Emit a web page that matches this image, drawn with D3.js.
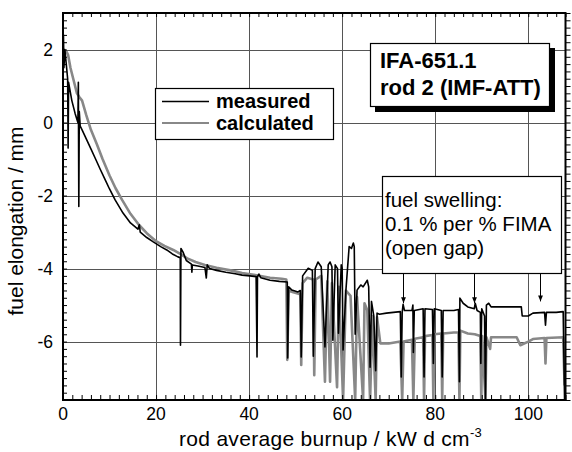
<!DOCTYPE html>
<html><head><meta charset="utf-8">
<script src="https://cdn.jsdelivr.net/npm/d3@7"></script>
<style>html,body{margin:0;padding:0;background:#fff}svg{display:block}</style>
</head><body>
<script>
// ---- data ----
const measuredBurnup = [0.0,0.1,0.2,0.4,0.7,1.0,1.1,1.2,1.9,2.6,3.2,3.3,3.4,3.5,3.7,4.1,5,6,7,8,9,10,11.2,12.9,14.5,16.1,16.4,16.6,18,19.4,21,22.3,23.5,24.7,25.2,25.25,25.35,25.8,26.5,27.3,27.6,27.7,27.8,29,30.5,30.8,31.0,31.5,33,35,37,38.5,40.2,41.5,41.7,41.8,42.1,42.5,44.5,46.5,48.2,48.3,48.5,49.2,50.5,51.0,51.2,51.5,52.7,53.6,53.8,54.2,54.8,55.5,56.3,57.0,57.4,57.8,58.0,58.5,59.0,59.2,59.8,60.0,60.2,60.8,61.5,62.0,62.4,62.6,62.8,63.2,64,64.5,65.4,65.7,66.0,66.3,66.8,67.2,67.5,68,69.5,71,72.5,72.7,72.9,73.1,73.4,75.0,75.2,75.3,75.5,77.4,77.6,77.8,79.4,79.6,79.8,81.3,81.5,81.7,84.0,85.0,85.2,85.3,86,87,88.4,88.6,89,89.7,89.8,90.0,90.6,90.8,91.0,91.5,92,95,98.5,98.7,100,101,103.5,103.7,103.9,106,107.5,107.8];
const measuredElong = [1.8,2.4,1.5,2.0,1.6,1.2,-0.7,1.1,0.6,0.25,0.0,1.1,-2.3,0.3,-0.1,-0.2,-0.45,-0.72,-1.0,-1.28,-1.55,-1.82,-2.12,-2.48,-2.75,-2.92,-2.8,-3.0,-3.15,-3.27,-3.4,-3.49,-3.6,-3.68,-3.7,-6.1,-3.45,-3.55,-3.78,-3.85,-3.88,-4.1,-3.9,-3.93,-3.97,-4.26,-3.9,-4.0,-4.05,-4.1,-4.14,-4.18,-4.2,-4.22,-6.42,-4.22,-4.15,-4.25,-4.32,-4.35,-4.37,-6.45,-4.5,-4.59,-4.64,-4.6,-6.42,-4.2,-3.99,-4.05,-6.4,-4.0,-3.82,-3.95,-6.15,-3.9,-3.82,-3.95,-5.96,-3.9,-4.0,-5.77,-3.9,-4.0,-6.23,-4.6,-3.4,-3.45,-3.3,-3.4,-5.8,-4.59,-4.45,-4.5,-4.32,-4.5,-6.7,-4.9,-5.3,-6.8,-5.22,-5.25,-5.22,-5.2,-5.18,-6.97,-5.2,-4.98,-5.15,-5.15,-5.0,-6.3,-5.15,-5.1,-6.97,-5.1,-5.12,-6.6,-5.1,-5.15,-6.97,-5.15,-5.15,-5.12,-7.1,-4.81,-4.95,-5.05,-5.1,-4.95,-5.15,-5.2,-6.6,-5.1,-5.3,-7.6,-5.0,-4.95,-5.05,-5.05,-5.05,-5.3,-5.3,-5.22,-5.2,-5.55,-5.2,-5.2,-5.18,-7.6];
const calcBurnup = [0,0.3,0.8,1.1,1.6,2.2,3.0,3.5,4.1,5.0,6.0,7.3,8.5,10,11.3,12.7,14.5,16.3,18,20,21.8,23.7,25.2,26.7,28.5,30.5,33,36,38.5,41,44.5,47,48.0,48.2,48.5,49.5,51.0,51.2,51.5,52.5,53.8,54.0,54.3,55.5,56.3,56.8,57.4,57.8,58.9,59.3,60.2,60.8,61.8,62.8,63.2,64.5,64.8,65.4,66.0,66.5,67.2,67.5,68.2,70,72.5,72.9,73.2,75.0,75.3,75.6,77.4,77.6,77.8,79.4,79.6,79.8,81.3,81.5,81.7,84,85.0,85.2,85.4,87,88.5,89.7,89.9,90.1,90.8,91.0,91.8,92.0,95,97.5,98.3,100,101,103.5,103.7,103.9,107.5,107.8];
const calcElong = [1.7,1.95,1.93,1.85,1.5,1.2,0.8,0.7,0.6,0.2,-0.2,-0.6,-1.0,-1.45,-1.8,-2.12,-2.5,-2.8,-3.03,-3.25,-3.38,-3.49,-3.6,-3.72,-3.82,-3.9,-3.98,-4.05,-4.12,-4.17,-4.25,-4.28,-4.3,-6.5,-4.6,-4.65,-4.7,-6.64,-4.4,-4.25,-4.3,-6.92,-4.3,-4.2,-7.1,-4.35,-7.1,-4.4,-7.25,-4.5,-7.6,-4.6,-4.75,-7.6,-4.78,-7.6,-4.95,-5.14,-7.6,-5.3,-7.6,-5.33,-6.05,-6.05,-6.0,-7.6,-6.0,-5.95,-7.6,-5.92,-5.88,-7.6,-5.85,-5.82,-7.6,-5.8,-5.78,-7.6,-5.78,-5.75,-5.75,-7.6,-5.7,-5.78,-5.8,-5.85,-7.6,-5.85,-7.6,-5.88,-6.2,-5.88,-5.88,-5.88,-6.1,-6.0,-5.93,-5.9,-6.6,-5.9,-5.88,-7.2];
const xTicks = [0,20,40,60,80,100];
const yTicks = [-6,-4,-2,0,2];
const seriesNames = ["measured","calculated"];
const titleLines = ["IFA-651.1","rod 2 (IMF-ATT)"];
const noteLines = ["fuel swelling:","0.1 % per % FIMA","(open gap)"];
const arrowBurnup = [73.1,88.4,102.6];
const arrowElong = [-4.95,-4.95,-4.9];

// ---- chart ----
const W = 572, H = 452;
const FONT = "'Liberation Sans', Arial, sans-serif";
const svg = d3.select("body").append("svg").attr("width",W).attr("height",H);
const x = d3.scaleLinear([0,108],[63,565.5]);
const y = d3.scaleLinear([-7.6,3],[400,13]);
const [x0,x1] = x.range(), [y0,y1] = y.range();

// grid
const grid = svg.append("g").attr("stroke","#555").attr("stroke-width",1);
grid.selectAll(".gx").data(xTicks.filter(d=>d>0)).join("line")
  .attr("x1",d=>Math.round(x(d))+0.5).attr("x2",d=>Math.round(x(d))+0.5).attr("y1",y1).attr("y2",y0);
grid.selectAll(".gy").data(yTicks).join("line")
  .attr("y1",d=>Math.round(y(d))+0.5).attr("y2",d=>Math.round(y(d))+0.5).attr("x1",x0).attr("x2",x1);

// data
svg.append("clipPath").attr("id","clip").append("rect").attr("x",x0).attr("y",y1).attr("width",x1-x0).attr("height",y0-y1);
const line = d3.line().x(d=>x(d[0])).y(d=>y(d[1]));
const calc = calcBurnup.map((b,i)=>[b,calcElong[i]]);
const meas = measuredBurnup.map((b,i)=>[b,measuredElong[i]]);
const plot = svg.append("g").attr("clip-path","url(#clip)");
plot.append("path").datum(calc).attr("d",line).attr("fill","none").attr("stroke","#888").attr("stroke-width",2.6).attr("stroke-linejoin","round");
plot.append("path").datum(meas).attr("d",line).attr("fill","none").attr("stroke","#000").attr("stroke-width",1.6).attr("stroke-linejoin","round");

// axes (ticks inward)
const minorX = d3.range(0,108.01,2);
const minorY = d3.range(-7.6,3.001,0.2).map(v=>+v.toFixed(1));
const axB = d3.axisBottom(x).tickValues(minorX).tickSize(-5).tickFormat("");
svg.append("g").attr("transform",`translate(0,${y0})`).call(axB);
const axT = d3.axisTop(x).tickValues(minorX).tickSize(-4).tickFormat("");
svg.append("g").attr("transform",`translate(0,${y1})`).call(axT);
const axL = d3.axisLeft(y).tickValues(minorY).tickSize(-4).tickFormat("");
svg.append("g").attr("transform",`translate(${x0},0)`).call(axL);
const axR = d3.axisRight(y).tickValues(minorY).tickSize(5).tickFormat("");
svg.append("g").attr("transform",`translate(${x1},0)`).call(axR);
svg.selectAll(".domain").remove();
svg.selectAll(".tick line").attr("stroke","#000").attr("stroke-width",1);
svg.append("rect").attr("x",x0).attr("y",y1).attr("width",x1-x0).attr("height",y0-y1)
  .attr("fill","none").attr("stroke","#000").attr("stroke-width",2);

// tick labels
svg.append("g").selectAll("text").data(xTicks).join("text")
  .attr("x",d=>x(d)).attr("y",420).attr("text-anchor","middle")
  .attr("font-family",FONT).attr("font-size",17.5).text(d=>d);
svg.append("g").selectAll("text").data(yTicks).join("text")
  .attr("x",53).attr("y",d=>y(d)+6).attr("text-anchor","end")
  .attr("font-family",FONT).attr("font-size",17.5).text(d=>d);

// axis titles
const xt = svg.append("text").attr("x",179).attr("y",446).attr("font-family",FONT).attr("font-size",21).attr("letter-spacing",0.3);
xt.append("tspan").text("rod average burnup / kW d cm");
xt.append("tspan").attr("dy",-9).attr("font-size",13).text("-3");
svg.append("text").attr("transform","translate(23,221) rotate(-90)").attr("text-anchor","middle")
  .attr("font-family",FONT).attr("font-size",21).text("fuel elongation / mm");

// legend
const lg = svg.append("g");
lg.append("rect").attr("x",155.5).attr("y",88.5).attr("width",178).attr("height",51).attr("fill","#fff").attr("stroke","#000").attr("stroke-width",1.2);
const legColors = ["#000","#888"], legW = [1.4,2];
seriesNames.forEach((n,i)=>{
  const ly = 101.5 + i*21.5;
  lg.append("line").attr("x1",162).attr("x2",209).attr("y1",ly).attr("y2",ly).attr("stroke",legColors[i]).attr("stroke-width",legW[i]);
  lg.append("text").attr("x",216).attr("y",ly+6.5).attr("font-family",FONT).attr("font-weight","bold").attr("font-size",20).text(n);
});

// title box with shadow
const tb = svg.append("g");
tb.append("rect").attr("x",375).attr("y",48).attr("width",180).attr("height",64).attr("fill","#000");
tb.append("rect").attr("x",370.5).attr("y",43.5).attr("width",179).attr("height",63).attr("fill","#fff").attr("stroke","#000").attr("stroke-width",1.2);
titleLines.forEach((t,i)=>tb.append("text").attr("x",380).attr("y",68+i*27).attr("font-family",FONT).attr("font-weight","bold").attr("font-size",22).text(t));

// note box
const nb = svg.append("g");
nb.append("rect").attr("x",382.5).attr("y",176.5).attr("width",179).attr("height",97).attr("fill","#fff").attr("stroke","#000").attr("stroke-width",1.2);
noteLines.forEach((t,i)=>nb.append("text").attr("x",385).attr("y",207+i*24).attr("font-family",FONT).attr("font-size",20.5).text(t));
svg.append("defs").append("marker").attr("id","ah").attr("viewBox","0 0 10 10").attr("refX",10).attr("refY",5)
  .attr("markerWidth",6).attr("markerHeight",6).attr("orient","auto")
  .append("path").attr("d","M0,1L10,5L0,9Z").attr("fill","#000");
arrowBurnup.forEach((b,i)=>{
  svg.append("line").attr("x1",Math.round(x(b))+0.5).attr("x2",Math.round(x(b))+0.5).attr("y1",274).attr("y2",y(arrowElong[i]))
    .attr("stroke","#000").attr("stroke-width",1).attr("marker-end","url(#ah)");
});
</script>
</body></html>
